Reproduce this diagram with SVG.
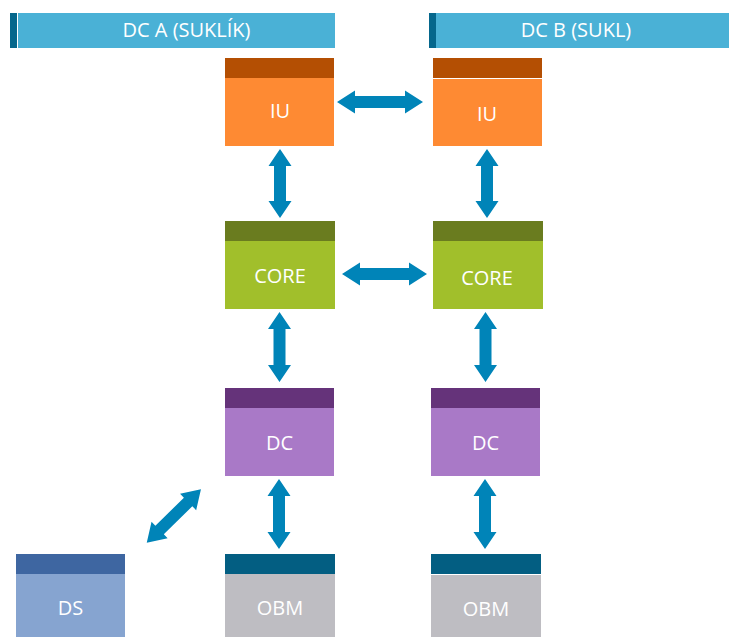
<svg xmlns="http://www.w3.org/2000/svg" width="729" height="637" viewBox="0 0 729 637">
<style>
text{font-family:"Open Sans","Noto Sans","Liberation Sans",sans-serif;font-size:20px;fill:#FFFFFF;text-anchor:middle}
.hdr{fill:#4AB1D6}.hdrd{fill:#05678C}
.iud{fill:#B44F03}.iul{fill:#FE8A33}
.cod{fill:#6A7C1F}.col{fill:#A1BF2B}
.dcd{fill:#65337A}.dcl{fill:#A979C7}
.obd{fill:#035E82}.obl{fill:#BEBDC2}
.dsd{fill:#3E66A1}.dsl{fill:#86A4D0}
.arr{fill:#0084B8}
.sep{stroke:#FFFFFF;stroke-width:1}
</style>
<rect width="729" height="637" fill="#FFFFFF"/>
<g id="header-a">
<rect class="hdrd" x="10" y="13" width="7" height="35"/>
<rect class="hdr" x="18" y="13" width="317" height="35"/>
<text x="186.5" y="37">DC A (SUKLÍK)</text>
</g>
<g id="header-b">
<rect class="hdrd" x="429" y="13" width="7" height="35"/>
<rect class="hdr" x="436" y="13" width="293" height="35"/>
<text x="576" y="37">DC B (SUKL)</text>
</g>
<g id="iu-a">
<rect class="iul" x="225" y="58" width="109" height="88"/>
<rect class="iud" x="225" y="58" width="109" height="20"/>
<text x="280" y="118">IU</text>
</g>
<g id="iu-b">
<rect class="iul" x="433" y="58" width="109" height="88"/>
<rect class="iud" x="433" y="58" width="109" height="20"/>
<line class="sep" x1="433" y1="78.5" x2="542" y2="78.5"/>
<text x="487" y="121">IU</text>
</g>
<g id="core-a">
<rect class="col" x="225" y="221" width="110" height="88"/>
<rect class="cod" x="225" y="221" width="110" height="20"/>
<text x="280" y="283">CORE</text>
</g>
<g id="core-b">
<rect class="col" x="433" y="221" width="110" height="88"/>
<rect class="cod" x="433" y="221" width="110" height="20"/>
<text x="487" y="285">CORE</text>
</g>
<g id="dc-a">
<rect class="dcl" x="225" y="388" width="109" height="88"/>
<rect class="dcd" x="225" y="388" width="109" height="20"/>
<text x="279.5" y="450">DC</text>
</g>
<g id="dc-b">
<rect class="dcl" x="431" y="388" width="109" height="88"/>
<rect class="dcd" x="431" y="388" width="109" height="20"/>
<text x="485.5" y="450">DC</text>
</g>
<g id="obm-a">
<rect class="obl" x="225" y="554" width="110" height="83"/>
<rect class="obd" x="225" y="554" width="110" height="20"/>
<text x="280" y="615">OBM</text>
</g>
<g id="obm-b">
<rect class="obl" x="431" y="554" width="110" height="83"/>
<rect class="obd" x="431" y="554" width="110" height="20"/>
<line class="sep" x1="431" y1="574.5" x2="541" y2="574.5"/>
<text x="486" y="616">OBM</text>
</g>
<g id="ds">
<rect class="dsl" x="16" y="554" width="109" height="83"/>
<rect class="dsd" x="16" y="554" width="109" height="20"/>
<text x="70.5" y="615">DS</text>
</g>
<g id="connectors">
<polygon class="arr" points="337,102 355,90.5 355,96 405,96 405,90.5 423,102 405,113.5 405,108 355,108 355,113.5"/>
<polygon class="arr" points="342,274 360,262.5 360,268 409,268 409,262.5 427,274 409,285.5 409,280 360,280 360,285.5"/>
<polygon class="arr" points="280,149 291.5,166 286,166 286,201 291.5,201 280,218 268.5,201 274,201 274,166 268.5,166"/>
<polygon class="arr" points="487,149 498.5,166 493,166 493,201 498.5,201 487,218 475.5,201 481,201 481,166 475.5,166"/>
<polygon class="arr" points="279.5,312 291,329 285.5,329 285.5,365 291,365 279.5,382 268,365 273.5,365 273.5,329 268,329"/>
<polygon class="arr" points="485.5,312 497,329 491.5,329 491.5,365 497,365 485.5,382 474,365 479.5,365 479.5,329 474,329"/>
<polygon class="arr" points="279,479 290.5,496 285,496 285,532 290.5,532 279,549 267.5,532 273,532 273,496 267.5,496"/>
<polygon class="arr" points="485,479 496.5,496 491,496 491,532 496.5,532 485,549 473.5,532 479,532 479,496 473.5,496"/>
<polygon class="arr" transform="translate(173.85,516) rotate(-44.5)" points="-38,0 -20,-11.5 -20,-6 20,-6 20,-11.5 38,0 20,11.5 20,6 -20,6 -20,11.5"/>
</g>
</svg>
